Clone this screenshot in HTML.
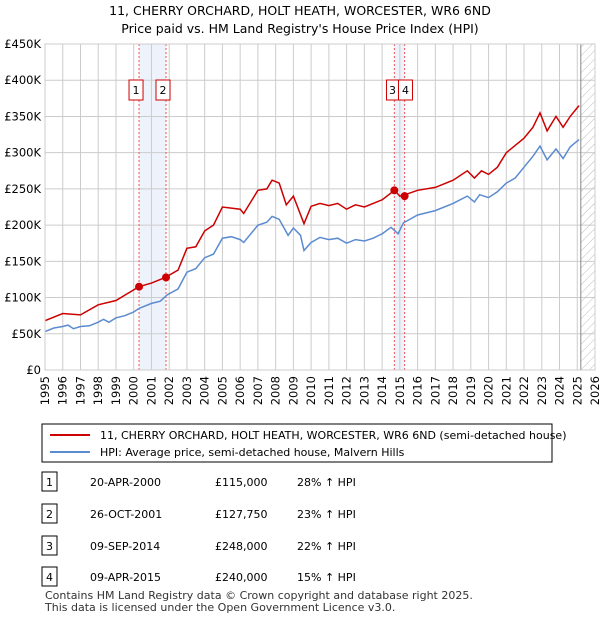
<!DOCTYPE html>
<html><head><meta charset="utf-8"><style>
body{margin:0;background:#fff;font-family:"Liberation Sans","DejaVu Sans",sans-serif;}
svg text{font-family:"DejaVu Sans","Liberation Sans",sans-serif;}
</style></head><body>
<svg id="chart" width="600" height="620" viewBox="0 0 600 620" xmlns="http://www.w3.org/2000/svg">
<defs><pattern id="hatch" width="6" height="6" patternUnits="userSpaceOnUse" patternTransform="rotate(45)"><line x1="0" y1="0" x2="0" y2="6" stroke="#bbb" stroke-width="1"/></pattern></defs>
<text x="300" y="15" text-anchor="middle" font-size="12.5" fill="#000">11, CHERRY ORCHARD, HOLT HEATH, WORCESTER, WR6 6ND</text>
<text x="300" y="33" text-anchor="middle" font-size="12.5" fill="#000">Price paid vs. HM Land Registry's House Price Index (HPI)</text>
<g id="grid"></g><g id="marks"></g><g id="axes"></g>
<g>
<rect x="42" y="424" width="510" height="38" fill="#fff" stroke="#000" stroke-width="1"/>
<line x1="50" y1="435" x2="90" y2="435" stroke="#cc0000" stroke-width="2"/>
<text x="100" y="439" font-size="11">11, CHERRY ORCHARD, HOLT HEATH, WORCESTER, WR6 6ND (semi-detached house)</text>
<line x1="50" y1="452" x2="90" y2="452" stroke="#5b8bd0" stroke-width="2"/>
<text x="100" y="456" font-size="11">HPI: Average price, semi-detached house, Malvern Hills</text>
</g>
<g id="table" font-size="11"></g>
<text x="45" y="599" font-size="11" fill="#333">Contains HM Land Registry data © Crown copyright and database right 2025.</text>
<text x="45" y="611" font-size="11" fill="#333">This data is licensed under the Open Government Licence v3.0.</text>
</svg>
<script>
const hpiYears=[1995,1995.5,1996,1996.3,1996.6,1997,1997.5,1998,1998.3,1998.6,1999,1999.5,2000,2000.3,2001,2001.5,2001.9,2002.5,2003,2003.5,2004,2004.5,2005,2005.5,2006,2006.2,2007,2007.5,2007.8,2008.2,2008.7,2009,2009.4,2009.6,2010,2010.5,2011,2011.5,2012,2012.5,2013,2013.5,2014,2014.5,2014.9,2015.2,2016,2017,2018,2018.8,2019.2,2019.5,2020,2020.5,2021,2021.5,2022,2022.5,2022.9,2023.3,2023.8,2024.2,2024.6,2025.1];
const hpiValues=[53,58,60,62,57,60,61,66,70,66,72,75,80,85,92,95,104,112,135,140,155,160,182,184,180,176,200,204,212,208,186,196,186,165,176,183,180,182,175,180,178,182,188,197,188,203,214,220,230,240,232,242,238,246,258,265,280,295,309,290,305,292,308,318];
const priceYears=[1995,1996,1997,1998,1999,2000.3,2001,2001.8,2002.5,2003,2003.5,2004,2004.5,2005,2006,2006.2,2007,2007.5,2007.8,2008.2,2008.6,2009,2009.6,2010,2010.5,2011,2011.5,2012,2012.5,2013,2013.5,2014,2014.7,2015,2015.3,2016,2017,2018,2018.8,2019.2,2019.6,2020,2020.5,2021,2021.5,2022,2022.5,2022.9,2023.3,2023.8,2024.2,2024.6,2025.1];
const priceValues=[68,78,76,90,96,115,120,128,138,168,170,192,200,225,222,216,248,250,262,258,228,240,202,226,230,227,230,222,228,225,230,235,248,240,242,248,252,262,275,265,275,270,280,300,310,320,335,355,330,350,335,350,365];
const saleLabels=["1","2","3","4"];
const saleYears=[2000.3,2001.82,2014.69,2015.27];
const saleValues=[115,127.75,248,240];
const saleDates=["20-APR-2000","26-OCT-2001","09-SEP-2014","09-APR-2015"];
const salePrices=["£115,000","£127,750","£248,000","£240,000"];
const saleHpi=["28% ↑ HPI","23% ↑ HPI","22% ↑ HPI","15% ↑ HPI"];
const yTicks=[0,50,100,150,200,250,300,350,400,450];
const xTicks=[];for(let y=1995;y<=2026;y++)xTicks.push(y);
const X0=45,X1=595,Y0=370,Y1=44;
const xs=t=>X0+(t-1995)/(2026-1995)*(X1-X0);
const ys=v=>Y0-v/450*(Y0-Y1);
const NS="http://www.w3.org/2000/svg";
function mk(tag,attrs,parent,txt){const e=document.createElementNS(NS,tag);for(const k in attrs)e.setAttribute(k,attrs[k]);if(txt!==undefined)e.textContent=txt;parent.appendChild(e);return e;}
const grid=document.getElementById('grid'),marks=document.getElementById('marks'),axes=document.getElementById('axes'),table=document.getElementById('table');
[[0,1],[2,3]].forEach(p=>{const r=mk('rect',{x:xs(saleYears[p[0]]),y:Y1,width:xs(saleYears[p[1]])-xs(saleYears[p[0]]),height:Y0-Y1,fill:'#eef2fb'},grid);

});
yTicks.forEach(v=>{const l=mk('line',{x1:X0,x2:X1,y1:ys(v),y2:ys(v),stroke:'#ccc'},grid);


const t=mk('text',{x:X0-4,y:ys(v)+4,'text-anchor':'end','font-size':11.5},axes,v===0?'£0':'£'+v+'K');

});
xTicks.forEach(y=>{const l=mk('line',{x1:xs(y),x2:xs(y),y1:Y1,y2:Y0,stroke:'#ccc'},grid);


const t=mk('text',{transform:`translate(${xs(y)+4},${Y0+6}) rotate(-90)`,'text-anchor':'end','font-size':11.5},axes,String(y));

});
const hx=xs(2025.2);
const h=mk('rect',{x:hx,y:Y1,width:X1-hx,height:Y0-Y1,fill:'url(#hatch)'},grid);


mk('line',{x1:hx,x2:hx,y1:Y1,y2:Y0,stroke:'#888'},grid);
saleYears.forEach(t=>{const l=mk('line',{x1:xs(t),x2:xs(t),y1:Y1,y2:Y0,stroke:'#e55','stroke-dasharray':'2,2'},grid);

});
const path=(xa,va)=>xa.map((t,i)=>(i?'L':'M')+xs(t).toFixed(1)+','+ys(va[i]).toFixed(1)).join('');
const hp=mk('path',{d:path(hpiYears,hpiValues),fill:'none',stroke:'#5b8bd0','stroke-width':1.5},marks);


const pp=mk('path',{d:path(priceYears,priceValues),fill:'none',stroke:'#cc0000','stroke-width':1.5},marks);


saleYears.forEach((t,i)=>{const c=mk('circle',{cx:xs(t),cy:ys(saleValues[i]),r:4,fill:'#cc0000'},marks);


let lx=xs(t)-10;
if(i===2)lx=xs(saleYears[3])-(xs(saleYears[3])-xs(t))/2-13;
if(i===3)lx=xs(saleYears[3])-(xs(saleYears[3])-xs(saleYears[2]))/2-1;
const w=i===2?12:14;
const g=mk('g',{},marks);


mk('rect',{x:lx,y:80,width:w,height:20,fill:'#fff',stroke:'#cc0000'},g);
mk('text',{x:lx+w/2,y:94,'text-anchor':'middle','font-size':11},g,saleLabels[i]);});
mk('rect',{x:X0,y:Y1,width:X1-X0,height:Y0-Y1,fill:'none',stroke:'#ccc'},axes);
const rowsY=[482,514,546,577];
saleLabels.forEach((s,i)=>{const g=mk('g',{},table);


mk('rect',{x:42,y:rowsY[i]-10,width:15,height:19,fill:'#fff',stroke:'#000'},g);
mk('text',{x:49.5,y:rowsY[i]+4,'text-anchor':'middle'},g,s);
mk('text',{x:90,y:rowsY[i]+4},g,saleDates[i]);
mk('text',{x:215,y:rowsY[i]+4},g,salePrices[i]);
mk('text',{x:297,y:rowsY[i]+4},g,saleHpi[i]);});
</script>
</body></html>
